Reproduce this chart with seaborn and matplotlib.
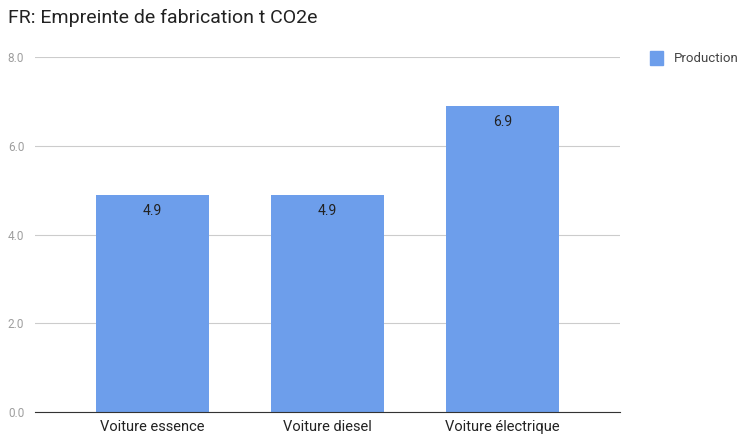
import matplotlib
matplotlib.use("Agg")
import matplotlib.pyplot as plt
import seaborn as sns
import pandas as pd

categories = ["Voiture essence", "Voiture diesel", "Voiture électrique"]
production = [4.9, 4.9, 6.9]
yticks = [0.0, 2.0, 4.0, 6.0, 8.0]

plt.rcParams["font.family"] = "Roboto"
df = pd.DataFrame({"cat": categories, "val": production})

fig = plt.figure(figsize=(7.5, 4.47), dpi=100)
ax = fig.add_axes([0.047, 0.078, 0.78, 0.794])
sns.barplot(data=df, x="cat", y="val", color="#6d9eeb", saturation=1, width=0.646, ax=ax)

ax.set_xlim(-0.669, 2.674)
ax.set_ylim(0, 8)
ax.set_yticks(yticks)
ax.set_yticklabels([f"{t:.1f}" for t in yticks], color="#9e9e9e", fontsize=8.5)
ax.tick_params(axis="x", labelsize=10.5, colors="#222222", length=0, pad=6)
ax.tick_params(axis="y", length=0, pad=8)
ax.set_xlabel("")
ax.set_ylabel("")
ax.grid(axis="y", color="#cccccc", linewidth=0.8)
ax.set_axisbelow(True)
for s in ["top", "right", "left"]:
    ax.spines[s].set_visible(False)
ax.spines["bottom"].set_color("#333333")

for i, v in enumerate(production):
    ax.text(i, v - 0.2, f"{v}", ha="center", va="top", fontsize=10, color="#222222")

fig.text(0.01, 0.96, "FR: Empreinte de fabrication t CO2e", fontsize=14, color="#222222", va="center")
fig.patches.append(plt.Rectangle((0.866, 0.855), 0.018, 0.03, transform=fig.transFigure, color="#6d9eeb"))
fig.text(0.898, 0.870, "Production", fontsize=9.5, color="#444444", va="center")

fig.savefig("out.png", dpi=100)
